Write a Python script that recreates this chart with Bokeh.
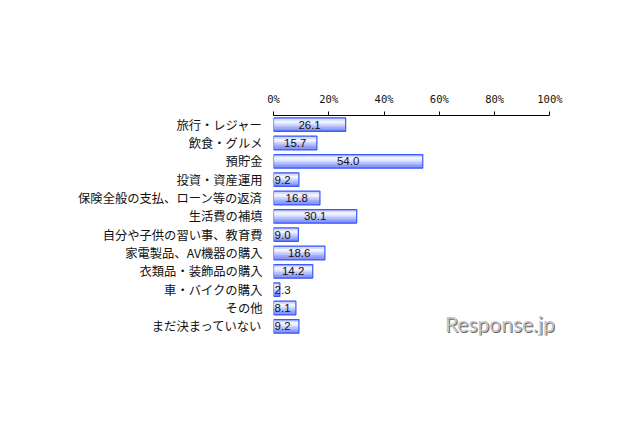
from bokeh.plotting import figure
from bokeh.models import Range1d, FixedTicker, ColumnDataSource, Label
from bokeh.core.properties import value
from bokeh.embed import file_html
from bokeh.resources import INLINE

categories = [
    "旅行・レジャー",
    "飲食・グルメ",
    "預貯金",
    "投資・資産運用",
    "保険全般の支払、ローン等の返済",
    "生活費の補填",
    "自分や子供の習い事、教育費",
    "家電製品、AV機器の購入",
    "衣類品・装飾品の購入",
    "車・バイクの購入",
    "その他",
    "まだ決まっていない",
]
values = [26.1, 15.7, 54.0, 9.2, 16.8, 30.1, 9.0, 18.6, 14.2, 2.3, 8.1, 9.2]
x_ticks = [0, 20, 40, 60, 80, 100]
x_tick_labels = ["0%", "20%", "40%", "60%", "80%", "100%"]
watermark = "Response.jp"

n = len(categories)
idx = list(range(n))

p = figure(
    width=624, height=410,
    x_range=Range1d(0, 106), y_range=Range1d(n - 0.5, -0.5),
    x_axis_location="above",
    output_backend="svg", toolbar_location=None,
    min_border_left=273, min_border_right=58,
    min_border_top=115, min_border_bottom=75,
)
p.outline_line_color = None
p.xgrid.visible = False
p.ygrid.visible = False
p.background_fill_color = "white"
p.border_fill_color = "white"

# top axis
xa = p.xaxis[0]
xa.ticker = FixedTicker(ticks=x_ticks)
xa.bounds = (x_ticks[0], x_ticks[-1])
xa.major_label_overrides = {t: l for t, l in zip(x_ticks, x_tick_labels)}
xa.minor_tick_line_color = None
xa.major_tick_out = 4
xa.major_tick_in = 0
xa.axis_line_color = "black"
xa.major_tick_line_color = "black"
xa.major_label_standoff = 7
xa.major_label_text_font = "DejaVu Sans Mono"
xa.major_label_text_font_size = "10.5px"
xa.major_label_text_color = "#111111"

# left axis (category labels)
ya = p.yaxis[0]
ya.ticker = FixedTicker(ticks=idx)
ya.major_label_overrides = {i: c for i, c in zip(idx, categories)}
ya.axis_line_color = None
ya.major_tick_line_color = None
ya.minor_tick_line_color = None
ya.major_tick_out = 0
ya.major_label_standoff = 11
ya.major_label_text_font = "Noto Sans CJK JP"
ya.major_label_text_font_size = "12.3px"
ya.major_label_text_color = "#111111"

# gradient bars made of thin strips
bar_h = 0.74
N = 9
sh = bar_h / N
blue = (70, 95, 245)
for k in range(N):
    t = (k + 0.5) / N
    if t < 0.3:
        w = 0.55 + 0.43 * t / 0.3
    else:
        w = 0.98 - (t - 0.3) / 0.7 * 0.8
    col = tuple(int(round(b + (255 - b) * w)) for b in blue)
    off = -bar_h / 2 + (k + 0.5) * sh
    src = ColumnDataSource(dict(y=[i + off for i in idx], right=values))
    p.hbar(y="y", left=0, right="right", height=sh * 1.2, source=src,
           fill_color="#%02x%02x%02x" % col, line_color=None)

p.hbar(y=idx, left=0, right=values, height=bar_h,
       fill_color=None, line_color="#3a58ff", line_width=1.2)

# value labels
lx, la = [], []
for v in values:
    if v >= 12:
        lx.append(v / 2)
        la.append("center")
    else:
        lx.append(0.4)
        la.append("left")
lsrc = ColumnDataSource(dict(x=lx, y=idx, t=["%.1f" % v for v in values], a=la))
p.text(x="x", y="y", text="t", text_align="a", source=lsrc,
       text_baseline="middle", text_font=value("Liberation Sans"),
       text_font_size="11.5px", text_color="#111111")

# watermark
p.add_layout(Label(x=62, y=10.85, x_offset=1, y_offset=-1, text=watermark,
                   text_font="Lato", text_font_size="21px",
                   text_color="#6a6a6a", text_baseline="alphabetic"))
p.add_layout(Label(x=62, y=10.85, text=watermark,
                   text_font="Lato", text_font_size="21px",
                   text_color="#c4c4c4", text_baseline="alphabetic"))

open("out.html", "w").write(file_html(p, INLINE))
